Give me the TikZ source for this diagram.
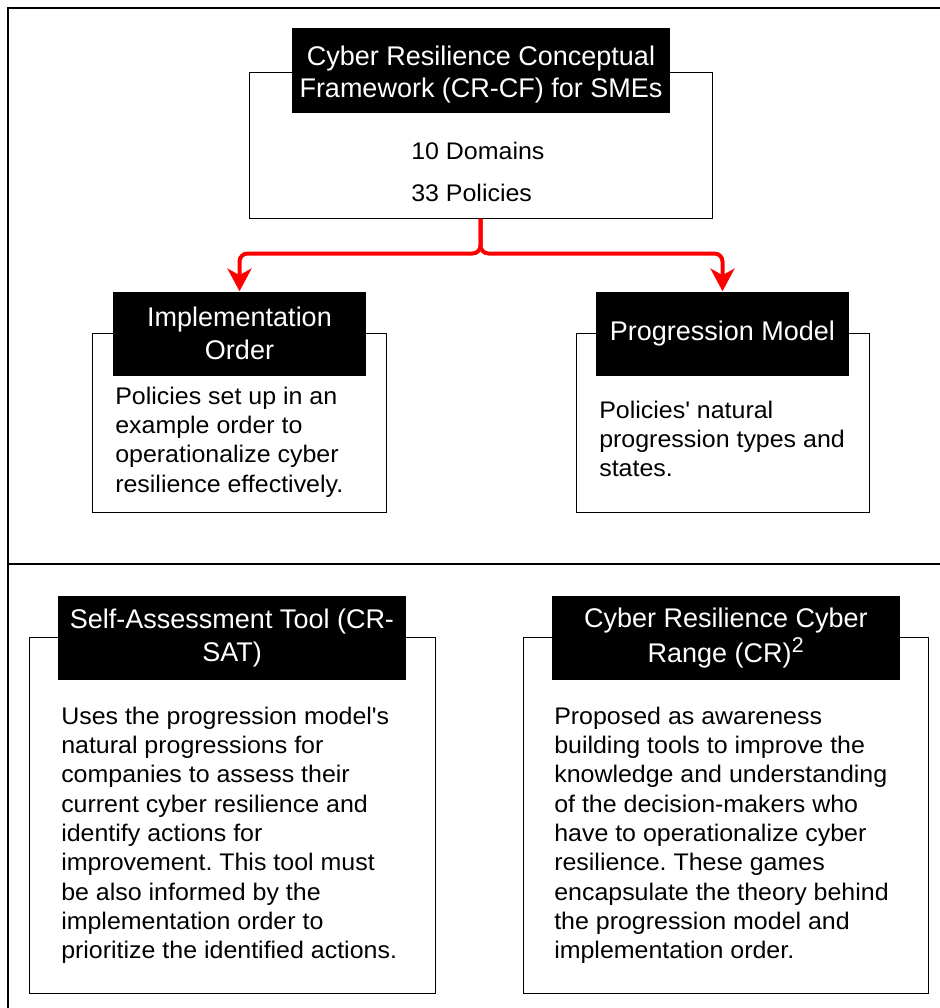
\documentclass[tikz,border=0pt]{standalone}
\usepackage{fontspec}
\newfontfamily\titlefont{Liberation Sans}
\newfontfamily\bodyfont{Liberation Sans}[FakeStretch=1.04]
\usetikzlibrary{arrows.meta}
\frenchspacing

\begin{document}
\begin{tikzpicture}[x=0.75pt, y=-0.75pt,
  frame/.style={draw=black, line width=1.1pt},
  panel/.style={draw=black, line width=0.75pt, fill=white, inner sep=0pt},
  header/.style={fill=black, text=white, inner sep=0pt, align=center,
    font=\titlefont\fontsize{20.25pt}{24.4pt}\selectfont},
  bodytext/.style={inner sep=0pt, anchor=base west,
    font=\bodyfont\fontsize{18pt}{22pt}\selectfont},
  link/.style={draw=red, line width=3pt, rounded corners=6pt,
    -{Stealth[length=17pt, width=18pt, inset=5pt]}}
]
\useasboundingbox (0,0) rectangle (940,1008);

% outer frame and divider between the two halves
\coordinate (tl) at (8,8);
\coordinate (tr) at (940,8);
\coordinate (bl) at (8,1008);
\coordinate (ml) at (8,564);
\coordinate (mr) at (940,564);
\draw[frame] (tr) -- (tl) -- (bl);
\draw[frame] (ml) -- (mr);

% content boxes
\node[panel, minimum width=463*0.75pt, minimum height=146*0.75pt] (crcf) at (480.5,145) {};
\node[panel, minimum width=294*0.75pt, minimum height=179*0.75pt] (impl) at (239,422.5) {};
\node[panel, minimum width=293*0.75pt, minimum height=179*0.75pt] (prog) at (722.5,422.5) {};
\node[panel, minimum width=406*0.75pt, minimum height=356*0.75pt] (sat) at (232,815) {};
\node[panel, minimum width=405*0.75pt, minimum height=356*0.75pt] (range) at (725.5,815) {};

% black headers
\node[header, minimum width=378*0.75pt, minimum height=85*0.75pt] (crcftitle) at (481,70.5)
  {\rule{0pt}{20.8pt}Cyber Resilience Conceptual\\Framework (CR-CF) for SMEs};
\node[header, minimum width=253*0.75pt, minimum height=84*0.75pt] (impltitle) at (239.5,333.5)
  {Implementation\\Order};
\node[header, minimum width=253*0.75pt, minimum height=84*0.75pt] (progtitle) at (722.5,333.5)
  {Progression Model};
\node[header, minimum width=348*0.75pt, minimum height=84*0.75pt] (sattitle) at (232,638)
  {Self-Assessment Tool (CR-\\[0.8pt]SAT)};
\node[header, minimum width=348*0.75pt, minimum height=84*0.75pt] (rangetitle) at (726,638)
  {Cyber Resilience Cyber\\[1.5pt]Range (CR)\textsuperscript{\fontsize{16pt}{16pt}\selectfont 2}};

% box texts
\node[bodytext] (crcfdom) at (411,159) {10 Domains};
\node[bodytext] (crcfpol) at (411,201) {33 Policies};

\node[bodytext] (impltext) at (115,404) {\parbox[t]{300pt}{\raggedright
  Policies set up in an\\
  example order to\\
  operationalize cyber\\
  resilience effectively.}};

\node[bodytext] (progtext) at (599,418) {\parbox[t]{300pt}{\raggedright
  Policies' natural\\
  progression types and\\
  states.}};

\node[bodytext] (sattext) at (61,724) {\parbox[t]{400pt}{\raggedright
  Uses the progression model's\\
  natural progressions for\\
  companies to assess their\\
  current cyber resilience and\\
  identify actions for\\
  improvement. This tool must\\
  be also informed by the\\
  implementation order to\\
  prioritize the identified actions.}};

\node[bodytext] (rangetext) at (554,724) {\parbox[t]{400pt}{\raggedright
  Proposed as awareness\\
  building tools to improve the\\
  knowledge and understanding\\
  of the decision-makers who\\
  have to operationalize cyber\\
  resilience. These games\\
  encapsulate the theory behind\\
  the progression model and\\
  implementation order.}};

% red connectors from the framework to its two parts
\draw[link] (crcf.south) -- ++(0,35) -| (impltitle.north);
\draw[link] (crcf.south) -- ++(0,35) -| (progtitle.north);
\end{tikzpicture}
\end{document}
